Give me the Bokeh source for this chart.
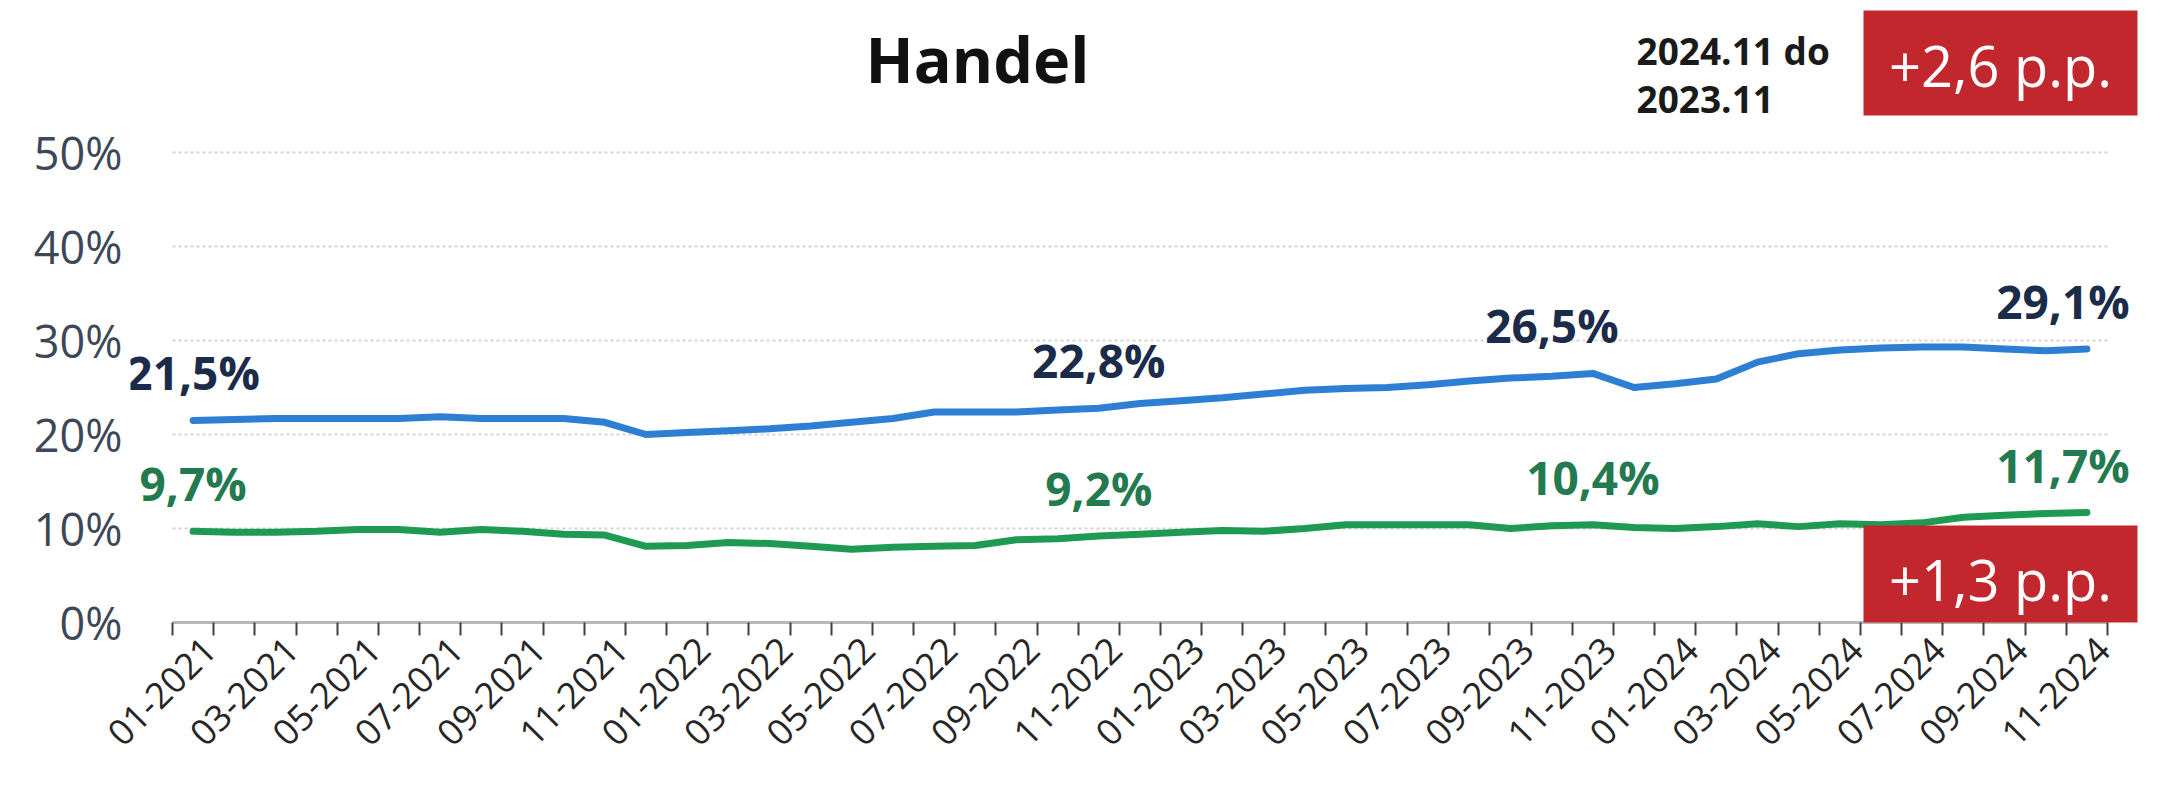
import numpy as np
from bokeh.plotting import figure
from bokeh.models import ColumnDataSource, FixedTicker, Label, BoxAnnotation, Range1d
from bokeh.core.properties import value
from bokeh.embed import file_html
from bokeh.resources import INLINE

# ---------------- data ----------------
months = [f"{m:02d}-{y}" for y in range(2021, 2025) for m in range(1, 13)][:47]

blue = [21.5, 21.6, 21.7, 21.7, 21.7, 21.7, 21.9, 21.7, 21.7, 21.7, 21.3, 20.0,
        20.2, 20.4, 20.6, 20.9, 21.3, 21.7, 22.4, 22.4, 22.4, 22.6, 22.8, 23.3,
        23.6, 23.9, 24.3, 24.7, 24.9, 25.0, 25.3, 25.7, 26.0, 26.2, 26.5, 25.0,
        25.4, 25.9, 27.7, 28.6, 29.0, 29.2, 29.3, 29.3, 29.1, 28.9, 29.1]

green = [9.7, 9.6, 9.6, 9.7, 9.9, 9.9, 9.6, 9.9, 9.7, 9.4, 9.3, 8.1,
         8.2, 8.5, 8.4, 8.1, 7.8, 8.0, 8.1, 8.2, 8.8, 8.9, 9.2, 9.4,
         9.6, 9.8, 9.7, 10.0, 10.4, 10.4, 10.4, 10.4, 10.0, 10.3, 10.4, 10.1,
         10.0, 10.2, 10.5, 10.2, 10.5, 10.4, 10.6, 11.2, 11.4, 11.6, 11.7]

y_ticks = [0, 10, 20, 30, 40, 50]
y_tick_labels = ["0%", "10%", "20%", "30%", "40%", "50%"]

label_idx = [0, 22, 34, 46]          # months that carry a value label
blue_label_dx = [0, 0, -41, -24]      # label nudges (px)
green_label_dx = [0, 0, 0, -24]

title_text = "Handel"
cmp_line1 = "2024.11 do"
cmp_line2 = "2023.11"
delta_blue = "+2,6 p.p."
delta_green = "+1,3 p.p."

# ---------------- layout constants ----------------
W, H = 2166, 789
BL, BR, BT = 130, 16, 0
AXIS_Y = 622                          # page y of the 0% line (frame bottom)
BB = H - BT - AXIS_Y
FW = W - BL - BR
PX = 1935 / 47.0                      # px per month
X_MIN = -0.5 - 42 / PX
X_MAX = X_MIN + FW / PX
PY = 9.4                              # px per percent
Y_MAX = AXIS_Y / PY

def sx2x(sx):   # page x -> data x
    return X_MIN + (sx - BL) / PX

def sy2y(sy):   # page y -> data y
    return (AXIS_Y - sy) / PY

BLUE = "#2d7fd4"
GREEN = "#1f9a52"
BLUE_TXT = "#1b2b4a"
GREEN_TXT = "#247a50"
RED = "#c1272d"
FONT = "Open Sans"

p = figure(width=W, height=H, output_backend="svg", toolbar_location=None,
           x_range=Range1d(X_MIN, X_MAX), y_range=Range1d(0, Y_MAX),
           min_border_left=BL, min_border_right=BR, min_border_top=BT,
           min_border_bottom=BB)
p.outline_line_color = None
p.xgrid.visible = False
p.ygrid.visible = False
p.background_fill_color = "white"

idx = list(range(len(months)))

# gridlines
p.segment(x0=-0.5, x1=46.5, y0=y_ticks[1:], y1=y_ticks[1:],
          line_color="#d4d4d4", line_width=2, line_dash="3 3")

# lines
p.line(idx, blue, line_color=BLUE, line_width=7, line_join="round", line_cap="round")
p.line(idx, green, line_color=GREEN, line_width=7, line_join="round", line_cap="round")

def fmt(v):
    return f"{v:.1f}".replace(".", ",") + "%"

bsrc = ColumnDataSource(dict(x=label_idx, y=[blue[i] for i in label_idx],
                             t=[fmt(blue[i]) for i in label_idx], dx=blue_label_dx))
gsrc = ColumnDataSource(dict(x=label_idx, y=[green[i] for i in label_idx],
                             t=[fmt(green[i]) for i in label_idx], dx=green_label_dx))
for src, col in ((bsrc, BLUE_TXT), (gsrc, GREEN_TXT)):
    p.text(x="x", y="y", text="t", source=src, x_offset="dx", y_offset=-48,
           text_align="center", text_baseline="alphabetic",
           text_font=value(FONT), text_font_style="bold", text_font_size="46px",
           text_color=col)

# x axis
xa = p.xaxis[0]
label_pos = [i + 0.4 for i in range(0, 47, 2)]
xa.ticker = FixedTicker(ticks=label_pos,
                        minor_ticks=[i - 0.5 for i in range(48)])
xa.major_label_overrides = {pos: months[i] for pos, i in zip(label_pos, range(0, 47, 2))}
xa.major_label_orientation = np.pi / 4
xa.bounds = (-0.5, 46.5)
xa.axis_line_color = "#b8b8b8"
xa.axis_line_width = 3
xa.major_tick_line_color = None
xa.major_tick_in = 0
xa.major_tick_out = 0
xa.minor_tick_line_color = "#404040"
xa.minor_tick_line_width = 2
xa.minor_tick_in = 0
xa.minor_tick_out = 13
xa.major_label_standoff = 8
xa.major_label_text_font = FONT
xa.major_label_text_font_size = "36px"
xa.major_label_text_color = "#262626"

# y axis
ya = p.yaxis[0]
ya.ticker = FixedTicker(ticks=y_ticks)
ya.major_label_overrides = dict(zip(y_ticks, y_tick_labels))
ya.axis_line_color = None
ya.major_tick_line_color = None
ya.minor_tick_line_color = None
ya.major_tick_in = 0
ya.major_tick_out = 0
ya.major_label_standoff = 8
ya.major_label_text_font = FONT
ya.major_label_text_font_size = "45px"
ya.major_label_text_color = "#3c4757"

# red boxes
for top, bot in ((10, 115), (525, 628)):
    p.add_layout(BoxAnnotation(left=sx2x(1863), right=sx2x(2137), top=sy2y(top),
                               bottom=sy2y(bot), fill_color=RED, fill_alpha=1.0,
                               line_color=None))

# texts
p.add_layout(Label(x=sx2x(977), y=sy2y(58), text=title_text, text_align="center",
                   text_baseline="alphabetic", text_font=FONT, text_font_style="bold",
                   text_font_size="63px", text_color="#111111"))
p.add_layout(Label(x=sx2x(1636), y=sy2y(50), text=cmp_line1, text_align="left",
                   text_baseline="alphabetic", text_font=FONT, text_font_style="bold",
                   text_font_size="37px", text_color="#1a1a1a"))
p.add_layout(Label(x=sx2x(1636), y=sy2y(99), text=cmp_line2, text_align="left",
                   text_baseline="alphabetic", text_font=FONT, text_font_style="bold",
                   text_font_size="37px", text_color="#1a1a1a"))
p.add_layout(Label(x=sx2x(2000), y=sy2y(64), text=delta_blue, text_align="center",
                   text_baseline="alphabetic", text_font=FONT,
                   text_font_size="56px", text_color="white"))
p.add_layout(Label(x=sx2x(2000), y=sy2y(578), text=delta_green, text_align="center",
                   text_baseline="alphabetic", text_font=FONT,
                   text_font_size="56px", text_color="white"))

open("out.html", "w").write(file_html(p, INLINE))
